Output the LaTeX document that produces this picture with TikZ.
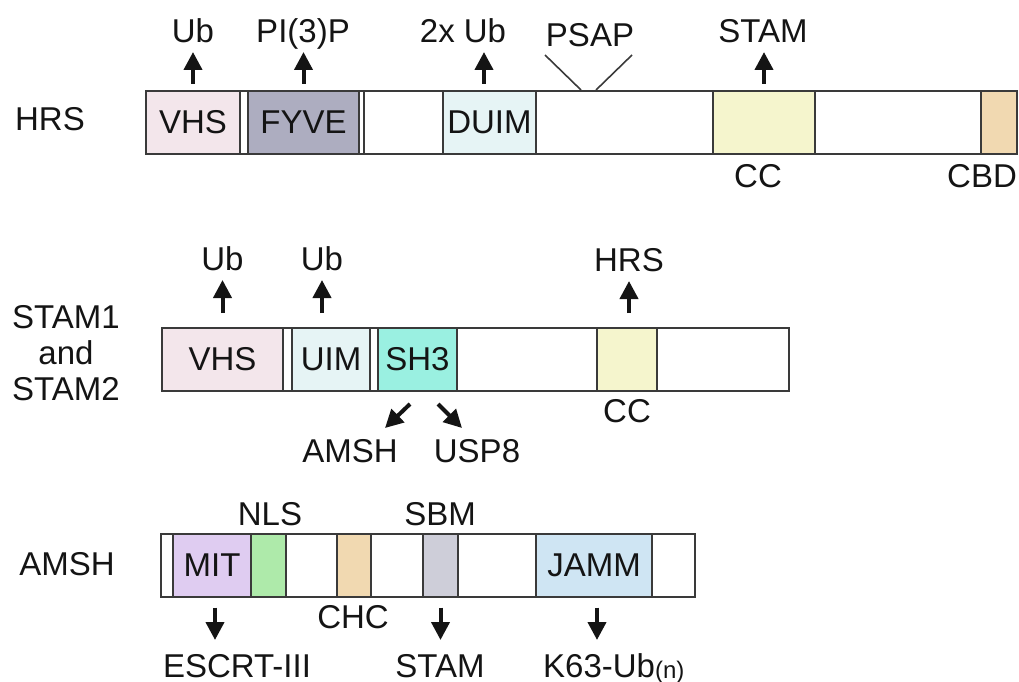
\documentclass[tikz,border=0pt]{standalone}
\usepackage{fontspec}
\setmainfont{Liberation Sans}
\usetikzlibrary{arrows.meta}

\definecolor{vhsfill}{HTML}{F3E6EB}
\definecolor{fyvefill}{HTML}{ADADC0}
\definecolor{uimfill}{HTML}{E6F4F5}
\definecolor{ccfill}{HTML}{F5F5CD}
\definecolor{tanfill}{HTML}{F1D9B1}
\definecolor{shfill}{HTML}{9AF0E1}
\definecolor{mitfill}{HTML}{DFCCF1}
\definecolor{nlsfill}{HTML}{AEEAAA}
\definecolor{sbmfill}{HTML}{CECED9}
\definecolor{jammfill}{HTML}{CFE5F3}
\definecolor{edge}{HTML}{3A3A3A}
\definecolor{ink}{HTML}{141414}

% one domain of a protein bar: name, left x, right x, centre y, fill, text
\newcommand\domseg[6]{%
  \node[dom, fill=#5, minimum width={(#3-#2)*1pt}] (#1) at ({(#2+#3)/2},#4) {#6};}

\begin{document}
\begin{tikzpicture}[x=1pt,y=-1pt,
  font=\fontsize{33}{36}\selectfont,
  dom/.style={draw=edge, line width=2pt, rectangle, inner sep=0pt,
              minimum height=63pt, text=ink},
  lbl/.style={anchor=base, inner sep=0pt, text=ink},
  arr/.style={draw=ink, line width=4pt, -{Triangle[length=18pt,width=18pt]}},
  psapline/.style={draw=edge, line width=1.6pt},
]
\useasboundingbox (0,0) rectangle (1019,682);

% ---------------- HRS ----------------
\node[lbl] (hrsname) at (50,130) {HRS};
\domseg{hvhs}{146}{240}{122.5}{vhsfill}{VHS}
\domseg{hgapa}{240}{248}{122.5}{white}{}
\domseg{hfyve}{248}{359}{122.5}{fyvefill}{FYVE}
\domseg{hgapb}{359}{364}{122.5}{white}{}
\domseg{hlink}{364}{443}{122.5}{white}{}
\domseg{hduim}{443}{536}{122.5}{uimfill}{DUIM}
\domseg{hpsap}{536}{713}{122.5}{white}{}
\domseg{hcc}{713}{815}{122.5}{ccfill}{}
\domseg{htail}{815}{981}{122.5}{white}{}
\domseg{hcbd}{981}{1017}{122.5}{tanfill}{}

\node[lbl] (hub) at (193,43) {Ub};
\node[lbl] (hpi) at (303,43) {PI(3)P};
\node[lbl] (hub2) at (463,43) {2x Ub};
\node[lbl] (hpsaplbl) at (590,47) {PSAP};
\node[lbl] (hstam) at (763,43) {STAM};
\node[lbl] (hcclbl) at (758,187) {CC};
\node[lbl] (hcbdlbl) at (982,187) {CBD};

\draw[arr] ([yshift=6pt]hvhs.north) -- ([yshift=-9pt]hvhs.north |- hub.base);
\draw[arr] ([yshift=6pt]hfyve.north) -- ([yshift=-9pt]hfyve.north |- hpi.base);
\draw[arr] ([xshift=-5.5pt,yshift=6pt]hduim.north) -- ([xshift=-5.5pt,yshift=-9pt]hduim.north |- hub2.base);
\draw[arr] ([yshift=6pt]hcc.north) -- ([yshift=-9pt]hcc.north |- hstam.base);
\draw[psapline] ([xshift=46pt]hpsap.north west) -- ([xshift=-45pt,yshift=-8pt]hpsaplbl.base);
\draw[psapline] ([xshift=61pt]hpsap.north west) -- ([xshift=42pt,yshift=-8pt]hpsaplbl.base);

% ---------------- STAM1 / STAM2 ----------------
\node[align=center, inner sep=0pt, text=ink] (stamname) at (66,353) {STAM1\\and\\STAM2};
\domseg{svhs}{162}{283}{359.5}{vhsfill}{VHS}
\domseg{sgapa}{283}{292}{359.5}{white}{}
\domseg{suim}{292}{370}{359.5}{uimfill}{UIM}
\domseg{sgapb}{370}{378}{359.5}{white}{}
\domseg{ssh}{378}{457}{359.5}{shfill}{SH3}
\domseg{smid}{457}{597}{359.5}{white}{}
\domseg{scc}{597}{657}{359.5}{ccfill}{}
\domseg{stail}{657}{789}{359.5}{white}{}

\node[lbl] (sub) at (222.5,270) {Ub};
\node[lbl] (sub2) at (322,270) {Ub};
\node[lbl] (shrs) at (629,271) {HRS};
\node[lbl] (scclbl) at (627,422) {CC};
\node[lbl] (samsh) at (350,462) {AMSH};
\node[lbl] (susp) at (477,462) {USP8};

\draw[arr] ([yshift=14pt]svhs.north) -- ([yshift=-10pt]svhs.north |- sub.base);
\draw[arr] ([xshift=-9pt,yshift=14pt]suim.north) -- ([xshift=-9pt,yshift=-10pt]suim.north |- sub2.base);
\draw[arr] ([xshift=2pt,yshift=14pt]scc.north) -- ([xshift=2pt,yshift=-10pt]scc.north |- shrs.base);
\draw[arr] ([xshift=-7.5pt,yshift=-12pt]ssh.south) -- ([xshift=35pt,yshift=34pt]samsh.base);
\draw[arr] ([xshift=20.5pt,yshift=-12pt]ssh.south) -- ([xshift=-15pt,yshift=34pt]susp.base);

% ---------------- AMSH ----------------
\node[lbl] (amshname) at (67,575) {AMSH};
\domseg{astart}{161}{173}{565}{white}{}
\domseg{amit}{173}{251}{565}{mitfill}{MIT}
\domseg{anls}{251}{286}{565}{nlsfill}{}
\domseg{awa}{286}{337}{565}{white}{}
\domseg{achc}{337}{371}{565}{tanfill}{}
\domseg{awb}{371}{423}{565}{white}{}
\domseg{asbm}{423}{458}{565}{sbmfill}{}
\domseg{awc}{458}{536}{565}{white}{}
\domseg{ajamm}{536}{652}{565}{jammfill}{JAMM}
\domseg{aend}{652}{695}{565}{white}{}

\node[lbl] (anlslbl) at (270,525) {NLS};
\node[lbl] (asbmlbl) at (440,525) {SBM};
\node[lbl] (achclbl) at (353,628) {CHC};
\node[lbl] (aescrt) at (237,677) {ESCRT-III};
\node[lbl] (astam) at (440,677) {STAM};
\node[lbl, anchor=base west] (ak63) at (543,677)
  {K63-Ub\raisebox{-1pt}{\fontsize{24}{24}\selectfont(n)}};

\draw[arr] ([xshift=3pt,yshift=-10pt]amit.south) -- ([xshift=3pt,yshift=37pt]amit.south |- aescrt.base);
\draw[arr] ([yshift=-10pt]asbm.south) -- ([yshift=37pt]asbm.south |- astam.base);
\draw[arr] ([xshift=3pt,yshift=-10pt]ajamm.south) -- ([xshift=3pt,yshift=37pt]ajamm.south |- ak63.base);
\end{tikzpicture}
\end{document}
